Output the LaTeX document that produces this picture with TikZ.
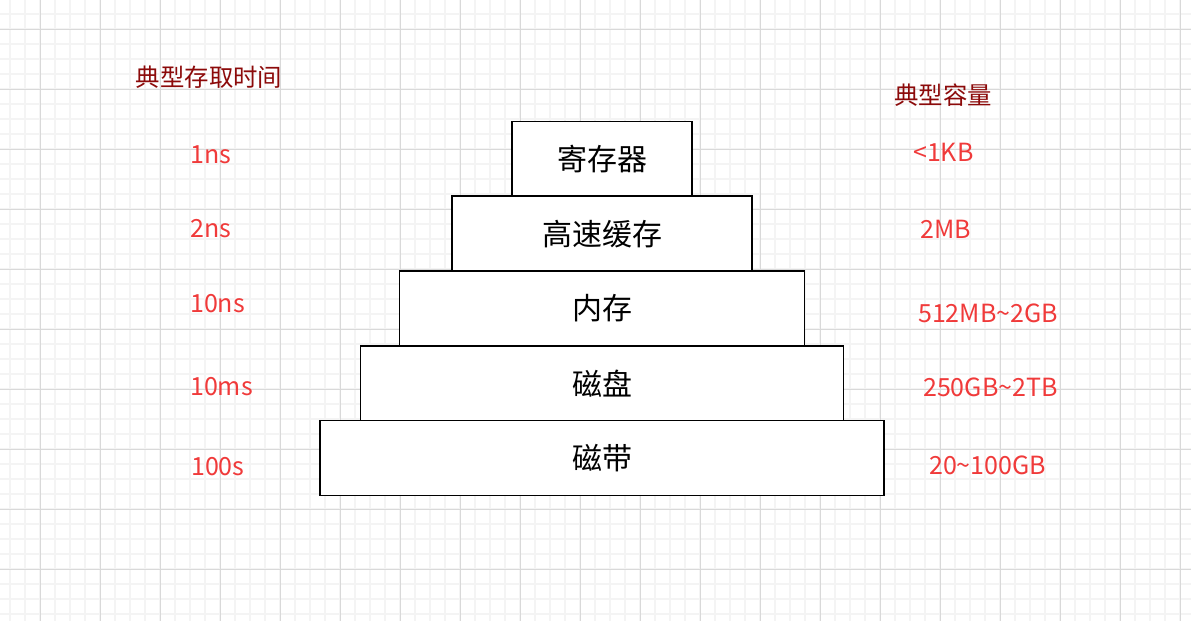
\documentclass[tikz,border=0pt]{standalone}
\usepackage{fontspec}
\setmainfont{Noto Sans CJK SC}
\usetikzlibrary{positioning}

\definecolor{valred}{RGB}{240,58,58}
\definecolor{headred}{RGB}{140,10,10}
\definecolor{gridminor}{RGB}{244,244,244}
\definecolor{gridmajor}{RGB}{217,217,217}

\begin{document}
\begin{tikzpicture}[x=1pt,y=-1pt,
  layer/.style={draw=black, line width=1.5pt, fill=white, minimum height=74.8pt,
    inner sep=0pt, outer sep=0pt, font=\fontsize{30}{34}\selectfont},
  value/.style={text=valred, anchor=west, inner sep=0pt, font=\fontsize{25}{29}\selectfont},
  heading/.style={text=headred, inner sep=0pt, font=\fontsize{24.4}{28}\selectfont}]

 % Background grid
\useasboundingbox (0,0) rectangle (1191,621);
\fill[white] (0,0) rectangle (1191,621);
\foreach \x in {10,25,...,1190} \draw[gridminor, line width=1.3pt] (\x,0) -- (\x,621);
\foreach \y in {14,29,...,620} \draw[gridminor, line width=1.3pt] (0,\y) -- (1191,\y);
\foreach \x in {40,100,...,1190} \draw[gridmajor, line width=1pt] (\x,0) -- (\x,621);
\foreach \y in {29,89,...,620} \draw[gridmajor, line width=1pt] (0,\y) -- (1191,\y);

 % Hierarchy
\node[layer, minimum width=564pt] (tape) at (602,458) {磁带};
\node[layer, minimum width=483pt, above=0pt of tape]   (disk)     {磁盘};
\node[layer, minimum width=405pt, above=0pt of disk]   (memory)   {内存};
\node[layer, minimum width=300pt, above=0pt of memory] (cache)    {高速缓存};
\node[layer, minimum width=180pt, above=0pt of cache]  (register) {寄存器};

 % Access times
\node[heading] (timehead) at (209,77) {典型存取时间};
\node[value] (t1) at (190,155) {1ns};
\node[value] (t2) at (190,229) {2ns};
\node[value] (t3) at (190,304) {10ns};
\node[value] (t4) at (190,387) {10ms};
\node[value] (t5) at (191,467) {100s};

 % Capacities
\node[heading] (sizehead) at (943,95) {典型容量};
\node[value] (c1) at (913,152) {<1KB};
\node[value] (c2) at (920,229) {2MB};
\node[value] (c3) at (918,313) {512MB\textasciitilde2GB};
\node[value] (c4) at (923,387) {250GB\textasciitilde2TB};
\node[value] (c5) at (929,465) {20\textasciitilde100GB};

\end{tikzpicture}
\end{document}
